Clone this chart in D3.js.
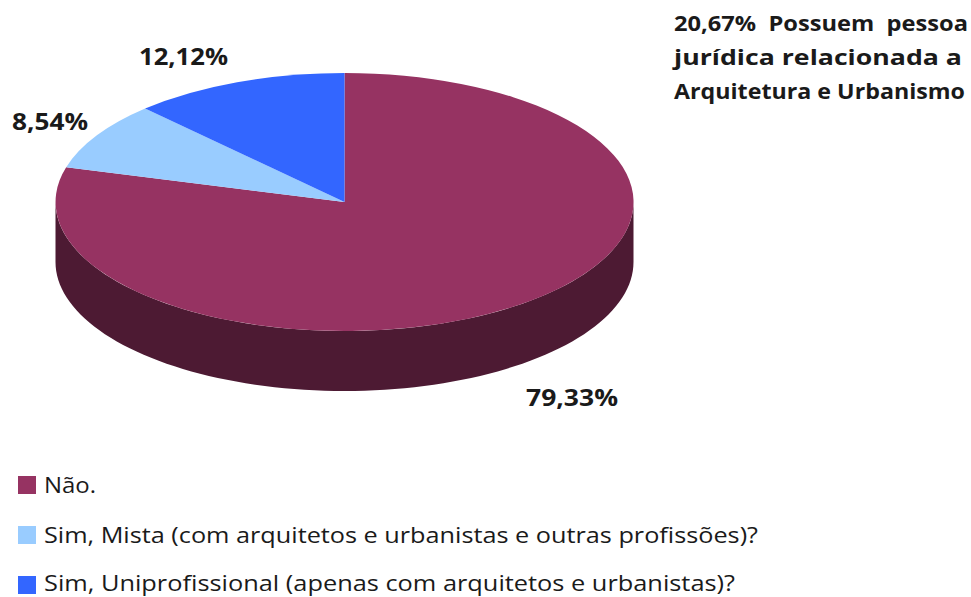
<!DOCTYPE html>
<html><head><meta charset="utf-8">
<script src="https://cdn.jsdelivr.net/npm/d3@7"></script>
<style>html,body{margin:0;background:#fff}svg{display:block}text{font-family:"Open Sans",sans-serif;fill:#1a1a1a}</style>
</head><body><svg id="c" width="971" height="597"></svg>
<script>
const categories=["Não.","Sim, Mista (com arquitetos e urbanistas e outras profissões)?","Sim, Uniprofissional (apenas com arquitetos e urbanistas)?"];
const values=[79.33,8.54,12.12];
const valueLabels=["79,33%","8,54%","12,12%"];
const colors=["#963362","#99ccff","#3366ff"];
const sideColor="#4d1a33";
const noteLines=["20,67%  Possuem  pessoa","jurídica relacionada a","Arquitetura e Urbanismo"];
const svg=d3.select("#c");
const cx=344.5,cy=202,rx=289,ry=129,depth=60;
const arcs=d3.pie().sort(null).value(d=>d)(values);
const unit=d3.arc().innerRadius(0).outerRadius(1);
const sideSteps=d3.range(Math.PI/2,Math.PI*1.5+0.001,Math.PI/90);
const rimTop=sideSteps.map(a=>[cx+rx*Math.sin(a),cy-ry*Math.cos(a)]);
const rimBot=sideSteps.map(a=>[cx+rx*Math.sin(a),cy-ry*Math.cos(a)+depth]).reverse();
svg.append("path").attr("d",d3.line()(rimTop.concat(rimBot))+"Z").attr("fill",sideColor);
svg.append("g").attr("transform",`translate(${cx},${cy}) scale(${rx},${ry})`)
 .selectAll("path").data(arcs).join("path").attr("d",unit).attr("fill",(d,i)=>colors[i]);
const lab=[[526,406,92],[12,130,76],[139,65,89]];
svg.selectAll("text.v").data(valueLabels).join("text").attr("class","v")
 .attr("x",(d,i)=>lab[i][0]).attr("y",(d,i)=>lab[i][1])
 .attr("textLength",(d,i)=>lab[i][2]).attr("lengthAdjust","spacingAndGlyphs")
 .attr("font-size",23).attr("font-weight",700).text(d=>d);
const noteW=[294,288,291];
svg.selectAll("text.n").data(noteLines).join("text").attr("class","n").style("white-space","pre")
 .attr("x",674).attr("y",(d,i)=>31+i*34).attr("textLength",(d,i)=>noteW[i]).attr("lengthAdjust","spacingAndGlyphs")
 .attr("font-size",21).attr("font-weight",700).text(d=>d);
const ly=[485,535,585];
const legW=[52,714,691];
svg.selectAll("rect.l").data(categories).join("rect").attr("class","l")
 .attr("x",18).attr("y",(d,i)=>ly[i]-9).attr("width",18).attr("height",18).attr("fill",(d,i)=>colors[i]);
svg.selectAll("text.l").data(categories).join("text").attr("class","l")
 .attr("x",44).attr("y",(d,i)=>ly[i]+8-(i==2?2:0)).attr("textLength",(d,i)=>legW[i]).attr("lengthAdjust","spacingAndGlyphs")
 .attr("font-size",22).text(d=>d);
</script></body></html>
